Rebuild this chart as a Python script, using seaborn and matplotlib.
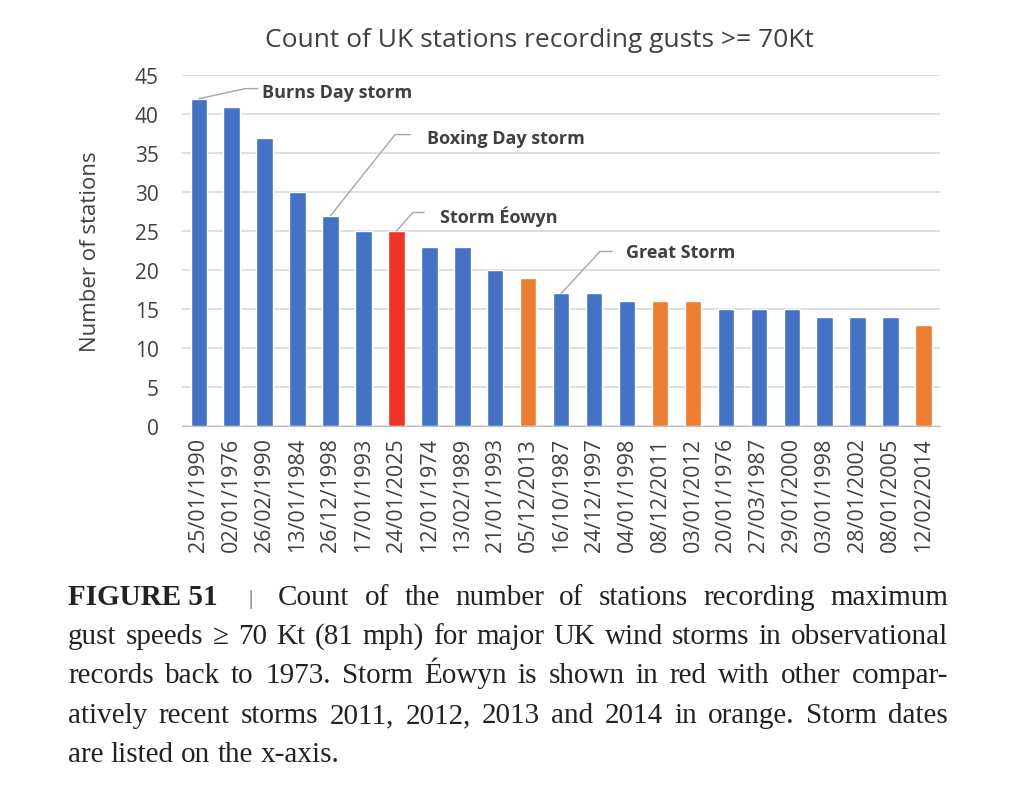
import numpy as np
import pandas as pd
import matplotlib
matplotlib.use("Agg")
import matplotlib.pyplot as plt
import seaborn as sns

# storm dates (x axis) and station counts
dates = ["25/01/1990", "02/01/1976", "26/02/1990", "13/01/1984", "26/12/1998",
         "17/01/1993", "24/01/2025", "12/01/1974", "13/02/1989", "21/01/1993",
         "05/12/2013", "16/10/1987", "24/12/1997", "04/01/1998", "08/12/2011",
         "03/01/2012", "20/01/1976", "27/03/1987", "29/01/2000", "03/01/1998",
         "28/01/2002", "08/01/2005", "12/02/2014"]
stations = [42, 41, 37, 30, 27, 25, 25, 23, 23, 20, 19, 17, 17, 16, 16, 16,
            15, 15, 15, 14, 14, 14, 13]
group = ["older"] * 6 + ["eowyn"] + ["older"] * 3 + ["recent"] + ["older"] * 3 + \
        ["recent", "recent"] + ["older"] * 6 + ["recent"]

# named storms that get a label
storm_names = ["Burns Day storm", "Boxing Day storm", "Storm Éowyn", "Great Storm"]
storm_dates = ["25/01/1990", "26/12/1998", "24/01/2025", "16/10/1987"]

df = pd.DataFrame({"date": dates, "stations": stations, "group": group})
palette = {"older": "#4472C4", "recent": "#ED7D31", "eowyn": "#EE3424"}

sns.set_style("white")
plt.rcParams["font.family"] = ["Open Sans", "DejaVu Sans"]

fig = plt.figure(figsize=(10.24, 8.04), dpi=100)
ax = fig.add_axes([0.178, 0.469, 0.740, 0.436])

sns.barplot(data=df, x="date", y="stations", hue="group", palette=palette,
            order=dates, dodge=False, width=0.5, legend=False, ax=ax,
            saturation=1)

ax.set_ylim(0, 45)
ax.set_yticks(np.arange(0, 46, 5))
ax.set_xlim(-0.5, len(dates) - 0.5)
ax.yaxis.grid(True, color="#D9D9D9", lw=1.2)
ax.set_axisbelow(True)
for s in ["top", "right", "left"]:
    ax.spines[s].set_visible(False)
ax.spines["bottom"].set_color("#BFBFBF")
ax.tick_params(axis="x", rotation=90, labelsize=15.5, colors="#404040", length=0, pad=8)
ax.tick_params(axis="y", labelsize=15, colors="#404040", length=0, pad=17)
ax.set_xlabel("")
ax.set_ylabel("Number of stations", fontsize=16, color="#404040", labelpad=24)
ax.set_title("Count of UK stations recording gusts >= 70Kt", fontsize=19,
             color="#404040", pad=21, x=0.472)

# leader lines: elbow x, elbow y, line end x, text x, text y
label_pos = [(1.41, 43.3, 1.80, 1.93, 43.1),
             (5.96, 37.4, 6.42, 6.93, 37.2),
             (6.50, 27.4, 6.84, 7.33, 27.3),
             (12.18, 22.4, 12.55, 12.97, 22.6)]
for name, d, (ex, ey, lx, tx, ty) in zip(storm_names, storm_dates, label_pos):
    i = dates.index(d)
    ax.plot([i, ex, lx], [stations[i], ey, ey], color="#A6A6A6", lw=1, clip_on=False)
    ax.text(tx, ty, name, fontsize=13, fontweight="bold", color="#404040",
            va="center_baseline", ha="left")

# caption, justified between two margins
cap_font = ["Liberation Serif", "DejaVu Serif"]
cap_size = 21
base = [605, 644, 683, 723, 762]
fig.text(68 / 1024, 1 - base[0] / 804, "FIGURE 51", fontsize=cap_size, fontweight="bold",
         family=cap_font, color="#222222", va="baseline")
fig.text(248 / 1024, 1 - (base[0] - 1) / 804, "|", fontsize=15, family=cap_font,
         color="#555555", va="baseline")
caption = ["Count of the number of stations recording maximum",
           "gust speeds \u2265 70 Kt (81 mph) for major UK wind storms in observational",
           "records back to 1973. Storm Éowyn is shown in red with other compar-",
           "atively recent storms 2011, 2012, 2013 and 2014 in orange. Storm dates",
           "are listed on the x-axis."]
right = 948
renderer = fig.canvas.get_renderer()
for k, (line, y) in enumerate(zip(caption, base)):
    x0 = 278 if k == 0 else 68
    words = line.split(" ")
    texts = [fig.text(0, 1 - y / 804, w, fontsize=cap_size, family=cap_font,
                      color="#222222", va="baseline") for w in words]
    widths = [t.get_window_extent(renderer).width for t in texts]
    if k < len(caption) - 1:
        gap = (right - x0 - sum(widths)) / (len(words) - 1)
    else:
        gap = cap_size * 0.25 * 100 / 72
    x = x0
    for t, w in zip(texts, widths):
        t.set_x(x / 1024)
        x += w + gap

fig.savefig("out.png", dpi=100)
